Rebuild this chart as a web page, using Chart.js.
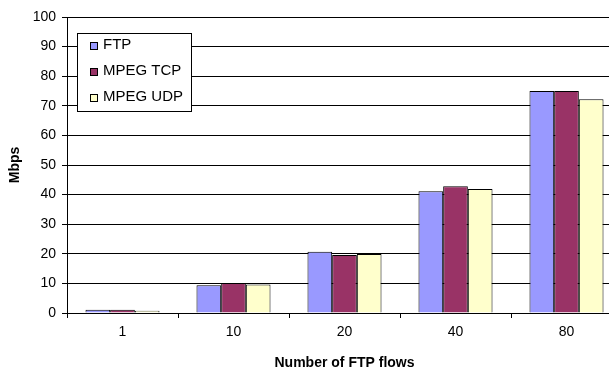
<!DOCTYPE html>
<html>
<head>
<meta charset="utf-8">
<script src="https://cdn.jsdelivr.net/npm/chart.js@4/dist/chart.umd.min.js"></script>
<style>
  html, body { margin: 0; padding: 0; background: #fff; overflow: hidden; }
</style>
</head>
<body>
<canvas id="flowChart" width="623" height="372"></canvas>
<script>
// Chart data
const flowCounts = ['1', '10', '20', '40', '80'];
const ftpValues = [1.1, 9.4, 20.7, 41.1, 75.0];
const mpegTcpValues = [1.1, 10.1, 19.6, 42.8, 75.0];
const mpegUdpValues = [0.8, 9.6, 19.9, 41.9, 72.2];
const yTicks = [0, 10, 20, 30, 40, 50, 60, 70, 80, 90, 100];

document.addEventListener("DOMContentLoaded", function() {
    const ctx = document.getElementById('flowChart').getContext('2d');
    const font = '"Liberation Sans", Arial, sans-serif';

    // Small legend box drawn inside the plot area, like the original
    const boxLegend = {
        id: 'boxLegend',
        afterDraw(chart) {
            const c = chart.ctx;
            c.save();
            c.fillStyle = '#fff';
            c.strokeStyle = '#000';
            c.lineWidth = 1;
            c.fillRect(77.5, 33.5, 114, 78);
            c.strokeRect(77.5, 33.5, 114, 78);
            c.font = '15px ' + font;
            c.textBaseline = 'middle';
            chart.data.datasets.forEach((ds, i) => {
                const cy = 46 + i * 26;
                c.fillStyle = ds.backgroundColor;
                c.fillRect(90.5, cy - 3.5, 7, 7);
                c.strokeStyle = '#000';
                c.strokeRect(90.5, cy - 3.5, 7, 7);
                c.fillStyle = '#000';
                c.fillText(ds.label, 103, cy - 1);
            });
            c.restore();
        }
    };

    new Chart(ctx, {
        type: 'bar',
        data: {
            labels: flowCounts,
            datasets: [
                { label: 'FTP', data: ftpValues, backgroundColor: '#9999FF' },
                { label: 'MPEG TCP', data: mpegTcpValues, backgroundColor: '#993366' },
                { label: 'MPEG UDP', data: mpegUdpValues, backgroundColor: '#FFFFCC' }
            ]
        },
        options: {
            responsive: false,
            animation: false,
            layout: { padding: { top: 17, left: 0, right: 1, bottom: 0 } },
            datasets: {
                bar: {
                    borderColor: '#000',
                    borderWidth: 1,
                    categoryPercentage: 0.667,
                    barPercentage: 1.0
                }
            },
            scales: {
                x: {
                    afterFit(scale) { scale.height = 59; },
                    grid: {
                        offset: true,
                        drawOnChartArea: false,
                        color: '#000',
                        tickLength: 5
                    },
                    border: { color: '#000', width: 1 },
                    ticks: { color: '#000', font: { family: font, size: 14 }, padding: 6 },
                    title: {
                        display: true,
                        text: 'Number of FTP flows',
                        color: '#000',
                        font: { family: font, size: 14, weight: 'bold' },
                        padding: { top: 0, bottom: 0 }
                    }
                },
                y: {
                    min: 0,
                    max: 100,
                    afterFit(scale) { scale.width = 67; },
                    afterBuildTicks(scale) { scale.ticks = yTicks.map(v => ({ value: v })); },
                    grid: { color: '#000', tickLength: 5 },
                    border: { color: '#000', width: 1 },
                    ticks: { color: '#000', font: { family: font, size: 14 }, padding: 6 },
                    title: {
                        display: true,
                        text: 'Mbps',
                        color: '#000',
                        font: { family: font, size: 14, weight: 'bold' },
                        padding: { top: 7, bottom: 0 }
                    }
                }
            },
            plugins: {
                legend: { display: false },
                tooltip: { enabled: false }
            }
        },
        plugins: [boxLegend]
    });
});
</script>
</body>
</html>
